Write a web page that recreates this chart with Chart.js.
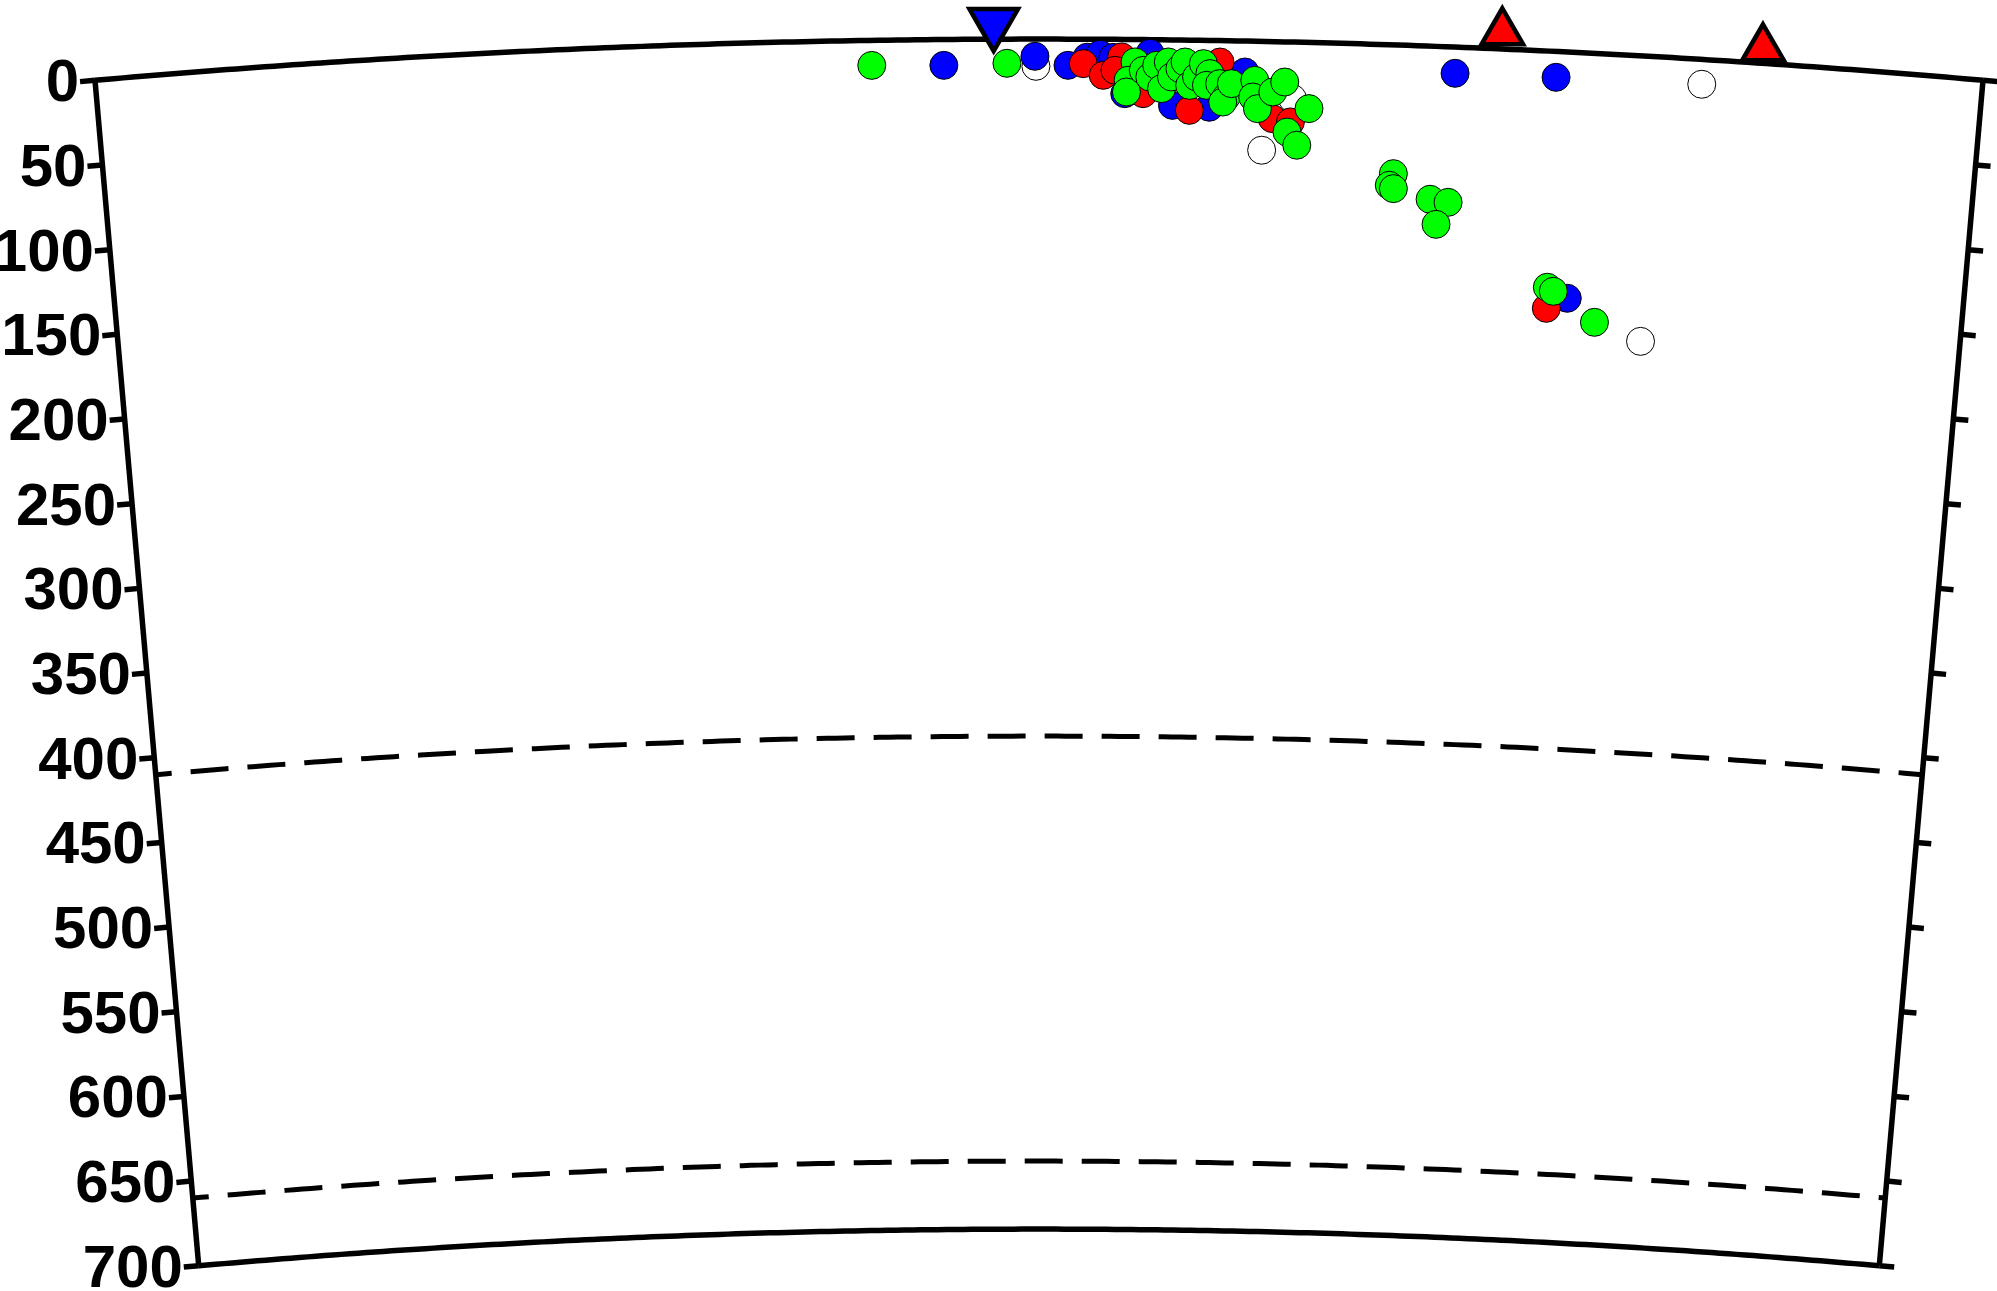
<!DOCTYPE html>
<html><head><meta charset="utf-8">
<script src="https://cdn.jsdelivr.net/npm/chart.js@4.4.1/dist/chart.umd.min.js"></script>
<style>html,body{margin:0;padding:0;background:#fff;overflow:hidden}#wrap{width:1997px;height:1291px}canvas{display:block}</style>
</head><body><div id="wrap"><canvas id="c" width="1997" height="1291"></canvas></div>
<script>
// ---------- data ----------
const EARTH_R = 6371;          // km
const PROFILE_LENGTH = 1112;   // km along the surface (10 degrees)
const MAX_DEPTH = 700;         // km
const depthTicks = [0,50,100,150,200,250,300,350,400,450,500,550,600,650,700];
const discontinuities = [410, 660];

const greenDist  = [457.4,537.1,612.6,608.6,607.7,617.5,621.4,625.4,628.4,632.2,634.2,639.1,642.1,645.0,649.0,652.9,656.8,654.9,662.7,666.7,664.7,669.6,683.4,682.4,685.3,694.2,701.1,715.8,703.1,709.1,767.0,764.8,767.3,789.4,800.2,793.5,861.8,865.5,891.2];
const greenDepth = [14.7,14.2,13.2,24.0,30.9,18.1,22.0,15.0,28.7,13.0,21.8,16.8,12.9,26.6,21.6,13.7,19.5,26.4,25.3,33.1,36.1,25.2,23.0,32.8,39.6,29.6,23.6,38.9,53.0,60.6,75.7,82.6,84.5,90.0,91.4,104.6,138.8,141.0,158.0];

const redDist  = [582.1,593.9,604.7,600.8,617.5,662.7,645.0,694.2,705.0,861.8];
const redDepth = [14.4,21.2,10.3,18.2,31.8,12.6,41.3,45.3,47.0,151.2];

const blueDist  = [499.9,553.6,573.1,584.3,591.9,599.6,606.7,621.4,677.5,635.0,656.8,801.4,861.0,874.1];
const blueDepth = [15.2,10.1,15.4,10.6,8.8,10.6,31.9,8.0,18.2,38.5,39.3,15.4,15.2,144.7];

const whiteDist  = [554.2,688.3,705.8,947.0,919.6];
const whiteDepth = [16.0,64.0,33.1,14.6,167.7];

const stationDist  = [529.4];
const stationDepth = [-9.5];
const volcanoDist  = [828.2,981.6];
const volcanoDepth = [-9.8,-8.8];

// ---------- layout ----------
const W = 1997, H = 1291;
const PX_PER_KM = 1.70;
const CENTER_X_PX = 1039;
const CENTER_Y_PX = 10869.8;
const TICK_PX = 15;
const LINE_W = 5.5;

function toXY(dist, depth) {
  const th = (dist - PROFILE_LENGTH / 2) / EARTH_R;
  const r = EARTH_R - depth;
  return { x: r * Math.sin(th), y: r * Math.cos(th) };
}
function pts(dists, depths) { return dists.map((d, i) => toXY(d, depths[i])); }
function arc(depth) {
  const out = [];
  for (let s = 0; s <= 200; s++) out.push(toXY(PROFILE_LENGTH * s / 200, depth));
  return out;
}
function tickLen(depth) { return (TICK_PX / PX_PER_KM) * EARTH_R / (EARTH_R - depth); }

const lineBase = {type:'scatter', showLine:true, pointRadius:0, pointHoverRadius:0,
  borderColor:'#000', borderWidth:LINE_W, fill:false, tension:0, clip:false,
  borderCapStyle:'butt', borderJoinStyle:'miter'};

const datasets = [];
// frame
datasets.push({...lineBase, data: arc(0), order: 20});
datasets.push({...lineBase, data: arc(MAX_DEPTH), order: 20});
datasets.push({...lineBase, data: [toXY(0,0), toXY(0,MAX_DEPTH)], order: 20});
datasets.push({...lineBase, data: [toXY(PROFILE_LENGTH,0), toXY(PROFILE_LENGTH,MAX_DEPTH)], order: 20});
// ticks
depthTicks.forEach(d => {
  const dd = tickLen(d);
  datasets.push({...lineBase, data: [toXY(0,d), toXY(-dd,d)], order: 20});
  datasets.push({...lineBase, data: [toXY(PROFILE_LENGTH,d), toXY(PROFILE_LENGTH+dd,d)], order: 20});
});
// discontinuities
discontinuities.forEach(d => {
  datasets.push({...lineBase, data: arc(d), borderWidth:5, borderDash:[38,19], borderDashOffset:22, order: 19});
});

function sym(dist, depth, color, order) {
  return {type:'scatter', data: pts(dist, depth), showLine:false, pointRadius:14, pointHoverRadius:14,
    pointBackgroundColor: color, pointBorderColor:'#000', pointBorderWidth:1, clip:false, order};
}
datasets.push(sym(whiteDist, whiteDepth, '#ffffff', 8));
datasets.push(sym(blueDist, blueDepth, '#0000ff', 7));
datasets.push(sym(redDist, redDepth, '#ff0000', 6));
datasets.push(sym(greenDist, greenDepth, '#00ff00', 5));
datasets.push({type:'scatter', data: pts(volcanoDist, volcanoDepth), showLine:false, pointStyle:'triangle',
  pointRadius:24, pointHoverRadius:24, pointBackgroundColor:'#ff0000', pointBorderColor:'#000', pointBorderWidth:4.5, clip:false, order:1});
datasets.push({type:'scatter', data: pts(stationDist, stationDepth), showLine:false, pointStyle:'triangle', pointRotation:180,
  pointRadius:28, pointHoverRadius:28, pointBackgroundColor:'#0000ff', pointBorderColor:'#000', pointBorderWidth:4.5, clip:false, order:0});

const labelPlugin = {
  id: 'depthLabels',
  afterDraw(chart) {
    const ctx = chart.ctx, xs = chart.scales.x, ys = chart.scales.y;
    ctx.save();
    ctx.fillStyle = '#000';
    ctx.font = 'bold 60px "Liberation Sans", Arial, sans-serif';
    ctx.textAlign = 'right';
    ctx.textBaseline = 'middle';
    depthTicks.forEach(d => {
      const p = toXY(-tickLen(d), d);
      ctx.fillText(String(d), xs.getPixelForValue(p.x) - 1, ys.getPixelForValue(p.y) + 3);
    });
    ctx.restore();
  }
};

new Chart(document.getElementById('c').getContext('2d'), {
  type: 'scatter',
  data: { datasets },
  options: {
    responsive: false, animation: false, devicePixelRatio: 1, events: [],
    layout: { padding: 0, autoPadding: false },
    plugins: { legend: { display: false }, tooltip: { enabled: false } },
    scales: {
      x: { type:'linear', display:false, min: -CENTER_X_PX / PX_PER_KM, max: (W - CENTER_X_PX) / PX_PER_KM },
      y: { type:'linear', display:false, min: (CENTER_Y_PX - H) / PX_PER_KM, max: CENTER_Y_PX / PX_PER_KM }
    }
  },
  plugins: [labelPlugin]
});
</script>
</body></html>
